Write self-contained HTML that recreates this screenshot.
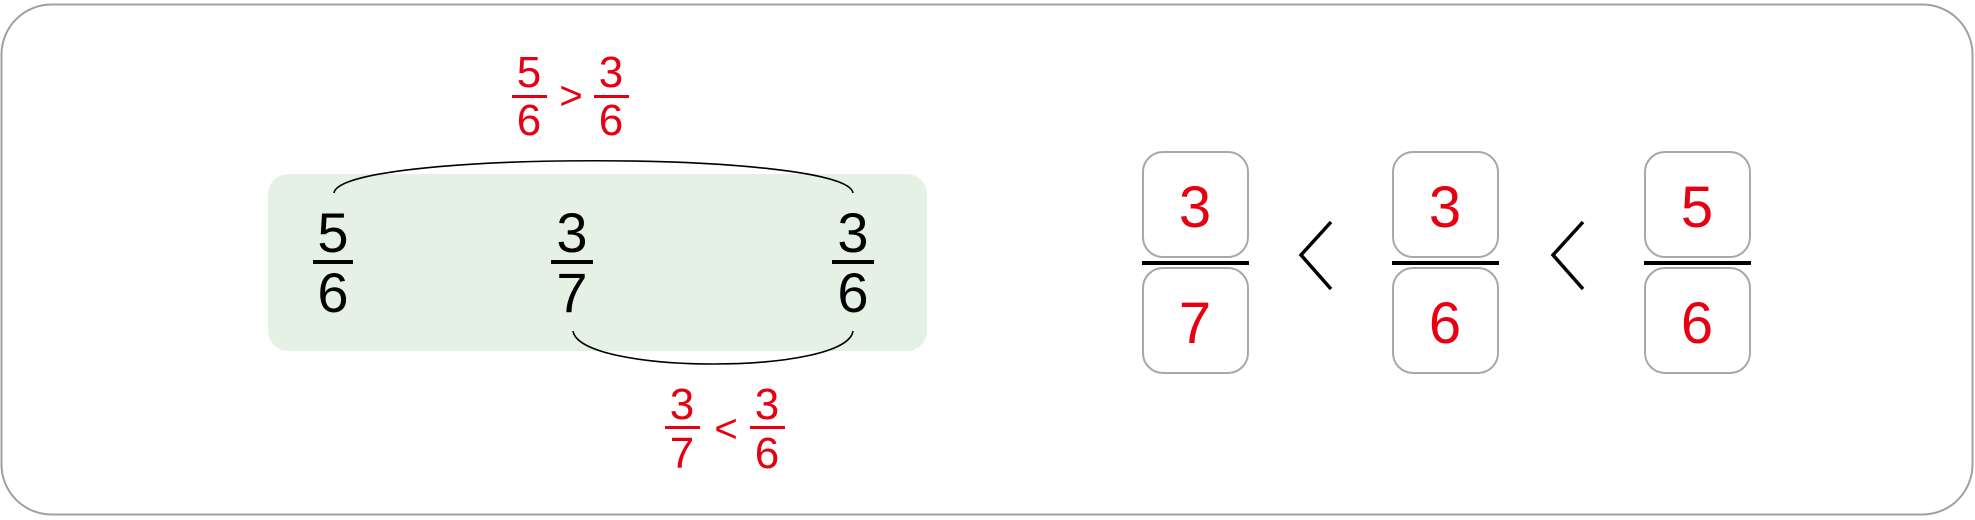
<!DOCTYPE html>
<html><head><meta charset="utf-8"><style>
html,body{margin:0;padding:0;background:#fff;}
svg{display:block;font-family:"Liberation Sans",sans-serif;}
</style></head><body>
<svg width="1975" height="520" viewBox="0 0 1975 520">
<rect x="1.5" y="4.5" width="1971" height="510" rx="50" fill="#fff" stroke="#a0a0a0" stroke-width="2"/>
<rect x="268" y="174" width="659" height="177" rx="20" fill="#e6f1e6"/>
<g fill="#000" font-size="56" text-anchor="middle">
 <g><text x="333" y="252">5</text><rect x="313" y="260" width="40" height="4"/><text x="333" y="312">6</text></g>
 <g><text x="572" y="252">3</text><rect x="551" y="260" width="42" height="4"/><text x="572" y="312">7</text></g>
 <g><text x="853" y="252">3</text><rect x="832" y="260" width="42" height="4"/><text x="853" y="312">6</text></g>
</g>
<path d="M334 193 C 340 150, 847 150, 853 193" fill="none" stroke="#000" stroke-width="1.6"/>
<path d="M573 331 C 580 375, 847 375, 853 331" fill="none" stroke="#000" stroke-width="1.6"/>
<g fill="#e60012" font-size="44" text-anchor="middle">
 <text x="529" y="87">5</text><rect x="512" y="95" width="35" height="3"/><text x="529" y="135">6</text>
 <text x="571" y="109" font-size="40">&gt;</text>
 <text x="611" y="87">3</text><rect x="594" y="95" width="35" height="3"/><text x="611" y="135">6</text>
</g>
<g fill="#e60012" font-size="44" text-anchor="middle">
 <text x="682" y="419">3</text><rect x="665" y="426" width="35" height="3"/><text x="682" y="468">7</text>
 <text x="726" y="442" font-size="40">&lt;</text>
 <text x="767" y="419">3</text><rect x="750" y="426" width="35" height="3"/><text x="767" y="468">6</text>
</g>
<g>
 <g>
  <rect x="1143" y="152" width="105" height="105" rx="20" fill="#fff" stroke="#a8a8a8" stroke-width="2"/>
  <rect x="1143" y="268" width="105" height="105" rx="20" fill="#fff" stroke="#a8a8a8" stroke-width="2"/>
  <rect x="1142" y="261" width="107" height="4" fill="#000"/>
  <text x="1195" y="227" font-size="58" fill="#e60012" text-anchor="middle">3</text>
  <text x="1195" y="343" font-size="58" fill="#e60012" text-anchor="middle">7</text>
 </g>
 <path d="M1331 222 L1301 255 L1331 289" fill="none" stroke="#000" stroke-width="3.5"/>
 <g>
  <rect x="1393" y="152" width="105" height="105" rx="20" fill="#fff" stroke="#a8a8a8" stroke-width="2"/>
  <rect x="1393" y="268" width="105" height="105" rx="20" fill="#fff" stroke="#a8a8a8" stroke-width="2"/>
  <rect x="1392" y="261" width="107" height="4" fill="#000"/>
  <text x="1445" y="227" font-size="58" fill="#e60012" text-anchor="middle">3</text>
  <text x="1445" y="343" font-size="58" fill="#e60012" text-anchor="middle">6</text>
 </g>
 <path d="M1583 222 L1553 255 L1583 289" fill="none" stroke="#000" stroke-width="3.5"/>
 <g>
  <rect x="1645" y="152" width="105" height="105" rx="20" fill="#fff" stroke="#a8a8a8" stroke-width="2"/>
  <rect x="1645" y="268" width="105" height="105" rx="20" fill="#fff" stroke="#a8a8a8" stroke-width="2"/>
  <rect x="1644" y="261" width="107" height="4" fill="#000"/>
  <text x="1697" y="227" font-size="58" fill="#e60012" text-anchor="middle">5</text>
  <text x="1697" y="343" font-size="58" fill="#e60012" text-anchor="middle">6</text>
 </g>
</g>
</svg>
</body></html>
